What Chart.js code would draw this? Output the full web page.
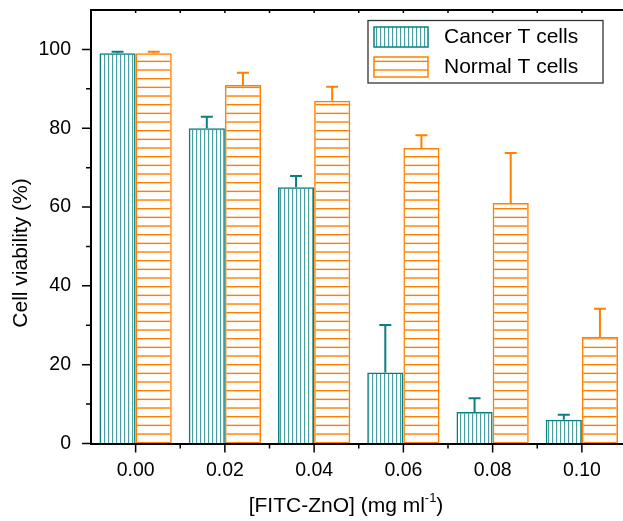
<!DOCTYPE html>
<html>
<head>
<meta charset="utf-8">
<script src="https://cdn.jsdelivr.net/npm/chart.js@4"></script>
<style>
html, body { margin: 0; padding: 0; background: #fff; overflow: hidden; }
#wrap { width: 628px; height: 521px; }
</style>
</head>
<body>
<div id="wrap"><canvas id="chart" width="628" height="521"></canvas></div>
<script>
const concentrations = ['0.00', '0.02', '0.04', '0.06', '0.08', '0.10'];
const cancerViability = [99, 80, 65, 18, 8, 6];
const cancerError = [0.4, 2.9, 2.9, 12.1, 3.5, 1.3];
const normalViability = [99, 91, 87, 75, 61, 27];
const normalError = [0.4, 3.1, 3.5, 3.2, 12.7, 7.2];
const yMajorTicks = [0, 20, 40, 60, 80, 100];
const yMinorTicks = [10, 30, 50, 70, 90];
const seriesNames = ['Cancer T cells', 'Normal T cells'];

const TEAL = '#0a7f7f';
const ORANGE = '#ff8000';
const FONT = '"Liberation Sans", Arial, Helvetica, sans-serif';

const canvas = document.getElementById('chart');
const mainCtx = canvas.getContext('2d');

// hatch fills
function makePattern(w, h, draw) {
    const c = document.createElement('canvas');
    c.width = w;
    c.height = h;
    draw(c.getContext('2d'));
    return mainCtx.createPattern(c, 'repeat');
}
const tealHatch = makePattern(4, 4, g => {
    g.fillStyle = 'rgba(10,127,127,0.75)';
    g.fillRect(0, 0, 1.2, 4);
});
const orangeHatch = makePattern(4, 26, g => {
    g.fillStyle = ORANGE;
    [0, 8.67, 17.33].forEach(y => g.fillRect(0, y, 4, 1.4));
});

const errorBars = {
    id: 'errorBars',
    afterDatasetsDraw(chart) {
        const ctx = chart.ctx;
        const y = chart.scales.y;
        chart.data.datasets.forEach((ds, i) => {
            const meta = chart.getDatasetMeta(i);
            meta.data.forEach((bar, j) => {
                const top = y.getPixelForValue(ds.data[j] + ds.errors[j]);
                ctx.save();
                ctx.strokeStyle = ds.borderColor;
                ctx.lineWidth = 2;
                ctx.beginPath();
                ctx.moveTo(bar.x, bar.y);
                ctx.lineTo(bar.x, top);
                ctx.moveTo(bar.x - 6, top);
                ctx.lineTo(bar.x + 6, top);
                ctx.stroke();
                ctx.restore();
            });
        });
    }
};

const frameAndTicks = {
    id: 'frameAndTicks',
    afterDraw(chart) {
        const ctx = chart.ctx;
        const {left, right, top, bottom} = chart.chartArea;
        const x = chart.scales.x;
        const y = chart.scales.y;
        ctx.save();
        ctx.strokeStyle = '#000';
        ctx.lineWidth = 2;
        ctx.beginPath();
        ctx.moveTo(left - 1, top);
        ctx.lineTo(right, top);
        ctx.lineTo(right, bottom);
        ctx.stroke();

        ctx.lineWidth = 1.5;
        ctx.beginPath();
        yMajorTicks.forEach(v => {
            const p = y.getPixelForValue(v);
            ctx.moveTo(left - 9, p);
            ctx.lineTo(left, p);
        });
        yMinorTicks.forEach(v => {
            const p = y.getPixelForValue(v);
            ctx.moveTo(left - 5, p);
            ctx.lineTo(left, p);
        });
        concentrations.forEach((c, i) => {
            const p = x.getPixelForValue(i);
            ctx.moveTo(p, bottom);
            ctx.lineTo(p, bottom + 9);
            ctx.moveTo(p, top);
            ctx.lineTo(p, top + 3);
            if (i > 0) {
                const m = (p + x.getPixelForValue(i - 1)) / 2;
                ctx.moveTo(m, bottom);
                ctx.lineTo(m, bottom + 5);
                ctx.moveTo(m, top);
                ctx.lineTo(m, top + 3);
            }
        });
        ctx.stroke();
        ctx.restore();
    }
};

const titlesAndLegend = {
    id: 'titlesAndLegend',
    afterDraw(chart) {
        const ctx = chart.ctx;
        ctx.save();
        ctx.fillStyle = '#000';

        // y title
        ctx.font = '21px ' + FONT;
        ctx.textAlign = 'center';
        ctx.textBaseline = 'middle';
        ctx.save();
        ctx.translate(21, 253);
        ctx.rotate(-Math.PI / 2);
        ctx.fillText('Cell viability (%)', 0, 0);
        ctx.restore();

        // x title with superscript
        const main = '[FITC-ZnO] (mg ml';
        const sup = '-1';
        const tail = ')';
        ctx.textAlign = 'left';
        ctx.font = '21px ' + FONT;
        const w1 = ctx.measureText(main).width;
        const w3 = ctx.measureText(tail).width;
        ctx.font = '13px ' + FONT;
        const w2 = ctx.measureText(sup).width;
        let tx = 346 - (w1 + w2 + w3) / 2;
        const ty = 506;
        ctx.font = '21px ' + FONT;
        ctx.fillText(main, tx, ty);
        tx += w1;
        ctx.font = '13px ' + FONT;
        ctx.fillText(sup, tx, ty - 8);
        tx += w2;
        ctx.font = '21px ' + FONT;
        ctx.fillText(tail, tx, ty);

        // legend
        ctx.strokeStyle = '#333';
        ctx.lineWidth = 1.3;
        ctx.strokeRect(368, 20.5, 235, 62.5);
        const fills = [tealHatch, orangeHatch];
        const lines = [TEAL, ORANGE];
        seriesNames.forEach((name, i) => {
            const sy = 27 + i * 30;
            ctx.fillStyle = fills[i];
            ctx.fillRect(374, sy, 54, 20);
            ctx.strokeStyle = lines[i];
            ctx.lineWidth = 1.5;
            ctx.strokeRect(374, sy, 54, 20);
            ctx.fillStyle = '#000';
            ctx.font = '21px ' + FONT;
            ctx.textBaseline = 'middle';
            ctx.fillText(name, 444, sy + 10);
        });
        ctx.restore();
    }
};

new Chart(canvas, {
    type: 'bar',
    data: {
        labels: concentrations,
        datasets: [{
            label: seriesNames[0],
            data: cancerViability,
            errors: cancerError,
            backgroundColor: tealHatch,
            borderColor: TEAL,
            borderWidth: 1.5,
            categoryPercentage: 0.81,
            barPercentage: 1.0
        }, {
            label: seriesNames[1],
            data: normalViability,
            errors: normalError,
            backgroundColor: orangeHatch,
            borderColor: ORANGE,
            borderWidth: 1.5,
            categoryPercentage: 0.81,
            barPercentage: 1.0
        }]
    },
    options: {
        responsive: false,
        animation: false,
        devicePixelRatio: 1,
        layout: { padding: { top: 10, left: 0, right: 1.5, bottom: 0 } },
        plugins: {
            legend: { display: false },
            tooltip: { enabled: false }
        },
        scales: {
            x: {
                afterFit: s => {
                    s.height = 77.5;
                    s.paddingLeft = 0;
                    s.paddingRight = 0;
                },
                grid: { drawOnChartArea: false, drawTicks: false },
                border: { display: true, color: '#000', width: 2 },
                ticks: { color: '#000', padding: 15, font: { family: FONT, size: 19.5 } }
            },
            y: {
                min: 0,
                max: 110,
                afterFit: s => {
                    s.width = 91;
                    s.paddingTop = 0;
                    s.paddingBottom = 0;
                },
                afterBuildTicks: s => { s.ticks = yMajorTicks.map(v => ({ value: v })); },
                grid: { drawOnChartArea: false, drawTicks: false },
                border: { display: true, color: '#000', width: 2 },
                ticks: { color: '#000', padding: 20, font: { family: FONT, size: 19.5 } }
            }
        }
    },
    plugins: [errorBars, frameAndTicks, titlesAndLegend]
});
</script>
</body>
</html>
